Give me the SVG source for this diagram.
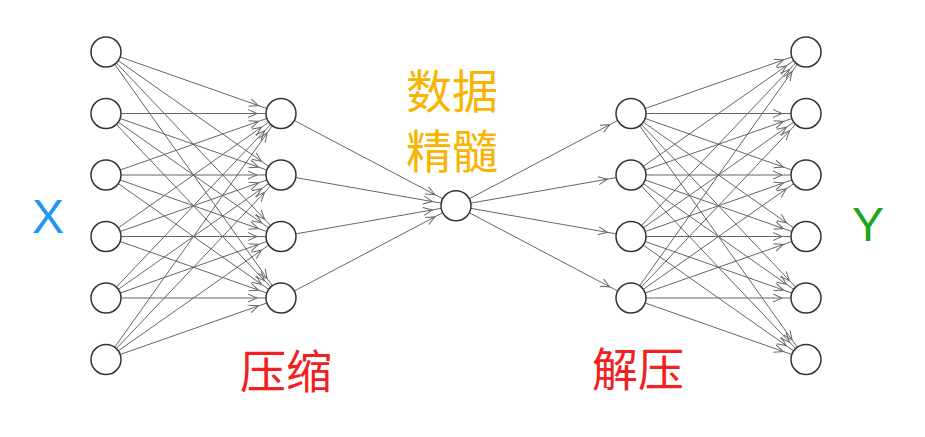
<svg xmlns="http://www.w3.org/2000/svg" width="925" height="437" viewBox="0 0 925 437">
<style>
.n{fill:#fff;stroke:#333;stroke-width:1.5}
.e line{stroke:#666;stroke-width:1;marker-end:url(#a)}
.cjk{font-family:"Noto Sans CJK SC","Noto Sans",sans-serif;font-size:46px}
.lat{font-family:"Liberation Sans",Arial,sans-serif;font-size:48px}
</style>
<defs>
<marker id="a" markerUnits="userSpaceOnUse" markerWidth="20" markerHeight="10" refX="19" refY="5" orient="auto" overflow="visible">
<path d="M1,1 L10,5 L1,9" fill="none" stroke="#666" stroke-width="1"/>
</marker>
</defs>
<rect width="925" height="437" fill="#fff"/>
<g id="connectors" class="e">
<line x1="120.15" y1="56.97" x2="266.85" y2="108.53"/>
<line x1="118.27" y1="60.63" x2="268.73" y2="166.37"/>
<line x1="116.32" y1="62.88" x2="270.68" y2="225.62"/>
<line x1="114.69" y1="64.22" x2="272.31" y2="285.78"/>
<line x1="121" y1="113.5" x2="266" y2="113.5"/>
<line x1="120.15" y1="118.47" x2="266.85" y2="170.03"/>
<line x1="118.27" y1="122.13" x2="268.73" y2="227.87"/>
<line x1="116.32" y1="124.38" x2="270.68" y2="287.12"/>
<line x1="120.15" y1="170.03" x2="266.85" y2="118.47"/>
<line x1="121" y1="175" x2="266" y2="175"/>
<line x1="120.15" y1="179.97" x2="266.85" y2="231.53"/>
<line x1="118.27" y1="183.63" x2="268.73" y2="289.37"/>
<line x1="118.27" y1="227.87" x2="268.73" y2="122.13"/>
<line x1="120.15" y1="231.53" x2="266.85" y2="179.97"/>
<line x1="121" y1="236.5" x2="266" y2="236.5"/>
<line x1="120.15" y1="241.47" x2="266.85" y2="293.03"/>
<line x1="116.32" y1="287.12" x2="270.68" y2="124.38"/>
<line x1="118.27" y1="289.37" x2="268.73" y2="183.63"/>
<line x1="120.15" y1="293.03" x2="266.85" y2="241.47"/>
<line x1="121" y1="298" x2="266" y2="298"/>
<line x1="114.69" y1="347.28" x2="272.31" y2="125.72"/>
<line x1="116.32" y1="348.62" x2="270.68" y2="185.88"/>
<line x1="118.27" y1="350.87" x2="268.73" y2="245.13"/>
<line x1="120.15" y1="354.53" x2="266.85" y2="302.97"/>
<line x1="294.27" y1="120.49" x2="442.73" y2="198.76"/>
<line x1="295.77" y1="177.6" x2="441.23" y2="203.15"/>
<line x1="295.77" y1="233.9" x2="441.23" y2="208.35"/>
<line x1="294.27" y1="291.01" x2="442.73" y2="212.74"/>
<line x1="469.27" y1="198.76" x2="617.73" y2="120.49"/>
<line x1="470.77" y1="203.15" x2="616.23" y2="177.6"/>
<line x1="470.77" y1="208.35" x2="616.23" y2="233.9"/>
<line x1="469.27" y1="212.74" x2="617.73" y2="291.01"/>
<line x1="645.15" y1="108.53" x2="791.85" y2="56.97"/>
<line x1="643.27" y1="166.37" x2="793.73" y2="60.63"/>
<line x1="641.32" y1="225.62" x2="795.68" y2="62.88"/>
<line x1="639.69" y1="285.78" x2="797.31" y2="64.22"/>
<line x1="646" y1="113.5" x2="791" y2="113.5"/>
<line x1="645.15" y1="170.03" x2="791.85" y2="118.47"/>
<line x1="643.27" y1="227.87" x2="793.73" y2="122.13"/>
<line x1="641.32" y1="287.12" x2="795.68" y2="124.38"/>
<line x1="645.15" y1="118.47" x2="791.85" y2="170.03"/>
<line x1="646" y1="175" x2="791" y2="175"/>
<line x1="645.15" y1="231.53" x2="791.85" y2="179.97"/>
<line x1="643.27" y1="289.37" x2="793.73" y2="183.63"/>
<line x1="643.27" y1="122.13" x2="793.73" y2="227.87"/>
<line x1="645.15" y1="179.97" x2="791.85" y2="231.53"/>
<line x1="646" y1="236.5" x2="791" y2="236.5"/>
<line x1="645.15" y1="293.03" x2="791.85" y2="241.47"/>
<line x1="641.32" y1="124.38" x2="795.68" y2="287.12"/>
<line x1="643.27" y1="183.63" x2="793.73" y2="289.37"/>
<line x1="645.15" y1="241.47" x2="791.85" y2="293.03"/>
<line x1="646" y1="298" x2="791" y2="298"/>
<line x1="639.69" y1="125.72" x2="797.31" y2="347.28"/>
<line x1="641.32" y1="185.88" x2="795.68" y2="348.62"/>
<line x1="643.27" y1="245.13" x2="793.73" y2="350.87"/>
<line x1="645.15" y1="302.97" x2="791.85" y2="354.53"/>
</g>
<g id="in1"><circle class="n" cx="106" cy="52" r="15"/></g>
<g id="in2"><circle class="n" cx="106" cy="113.5" r="15"/></g>
<g id="in3"><circle class="n" cx="106" cy="175" r="15"/></g>
<g id="in4"><circle class="n" cx="106" cy="236.5" r="15"/></g>
<g id="in5"><circle class="n" cx="106" cy="298" r="15"/></g>
<g id="in6"><circle class="n" cx="106" cy="359.5" r="15"/></g>
<g id="enc1"><circle class="n" cx="281" cy="113.5" r="15"/></g>
<g id="enc2"><circle class="n" cx="281" cy="175" r="15"/></g>
<g id="enc3"><circle class="n" cx="281" cy="236.5" r="15"/></g>
<g id="enc4"><circle class="n" cx="281" cy="298" r="15"/></g>
<g id="code"><circle class="n" cx="456" cy="205.75" r="15"/></g>
<g id="dec1"><circle class="n" cx="631" cy="113.5" r="15"/></g>
<g id="dec2"><circle class="n" cx="631" cy="175" r="15"/></g>
<g id="dec3"><circle class="n" cx="631" cy="236.5" r="15"/></g>
<g id="dec4"><circle class="n" cx="631" cy="298" r="15"/></g>
<g id="out1"><circle class="n" cx="806" cy="52" r="15"/></g>
<g id="out2"><circle class="n" cx="806" cy="113.5" r="15"/></g>
<g id="out3"><circle class="n" cx="806" cy="175" r="15"/></g>
<g id="out4"><circle class="n" cx="806" cy="236.5" r="15"/></g>
<g id="out5"><circle class="n" cx="806" cy="298" r="15"/></g>
<g id="out6"><circle class="n" cx="806" cy="359.5" r="15"/></g>
<g id="labels">
<text class="lat" x="32" y="233" fill="#2196F3">X</text>
<text class="lat" x="852" y="241" fill="#1EA51E">Y</text>
<text class="cjk" x="406" y="108" fill="#F8B400">数据</text>
<text class="cjk" x="406" y="168" fill="#F8B400">精髓</text>
<text class="cjk" x="240" y="388" fill="#F22020">压缩</text>
<text class="cjk" x="592" y="386" fill="#F22020">解压</text>
</g>
</svg>
